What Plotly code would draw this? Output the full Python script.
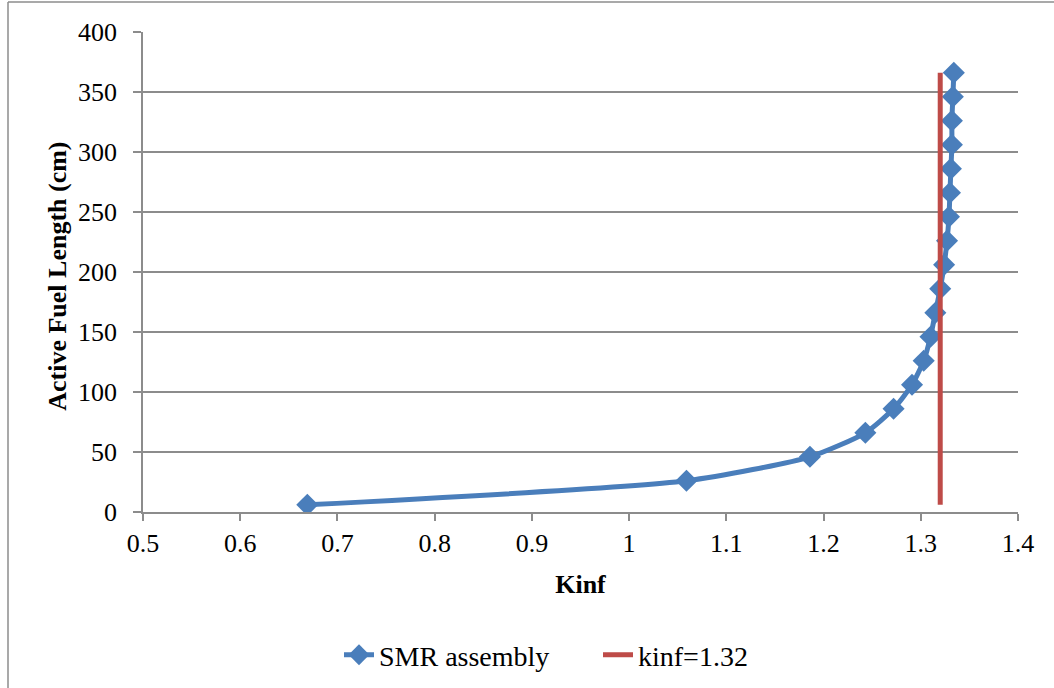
import plotly.graph_objects as go

# Kinf along the active fuel length of the SMR assembly
length_cm = [6, 26, 46, 66, 86, 106, 126, 146, 166, 186,
             206, 226, 246, 266, 286, 306, 326, 346, 366]
kinf = [0.669, 1.059, 1.186, 1.243, 1.272, 1.291, 1.303, 1.310, 1.315, 1.320,
        1.324, 1.327, 1.329, 1.330, 1.331, 1.332, 1.332, 1.333, 1.334]

# Reference line kinf = 1.32
ref_k = 1.32
ref_length = [6, 366]

x_ticks = [0.5, 0.6, 0.7, 0.8, 0.9, 1, 1.1, 1.2, 1.3, 1.4]
x_tick_labels = ["0.5", "0.6", "0.7", "0.8", "0.9", "1", "1.1", "1.2", "1.3", "1.4"]
y_ticks = [0, 50, 100, 150, 200, 250, 300, 350, 400]

BLUE = "#4A7EBB"
RED = "#BE4B48"
GRID = "#8C8C8C"
FONT = "Liberation Serif, Times New Roman, serif"


def serif(size):
    return dict(family=FONT, size=size, color="black")


fig = go.Figure()
fig.add_trace(go.Scatter(
    x=kinf, y=length_cm, name="SMR assembly",
    mode="lines+markers",
    line=dict(color=BLUE, width=5, shape="spline", smoothing=0.6),
    marker=dict(symbol="diamond", size=17, color=BLUE),
))
fig.add_trace(go.Scatter(
    x=[ref_k, ref_k], y=ref_length, name="kinf=1.32",
    mode="lines",
    line=dict(color=RED, width=5),
))

fig.update_layout(
    width=1054, height=688,
    margin=dict(l=143, r=36, t=32, b=176, autoexpand=False),
    paper_bgcolor="white", plot_bgcolor="white",
    font=serif(26),
    showlegend=True,
    legend=dict(orientation="h", x=(339 - 143) / 875, xanchor="left",
                y=-0.298, yanchor="middle",
                font=serif(28), tracegroupgap=0, entrywidth=214),
    xaxis=dict(
        range=[0.5, 1.4], tickvals=x_ticks, ticktext=x_tick_labels,
        showgrid=False, zeroline=False,
        showline=True, linecolor=GRID, linewidth=1.5,
        ticks="outside", ticklen=7, tickcolor=GRID, tickwidth=1.5,
        tickfont=serif(26),
        title=dict(text="<b>Kinf</b>", font=serif(26), standoff=18),
    ),
    yaxis=dict(
        range=[0, 400], tickvals=y_ticks,
        showgrid=True, gridcolor=GRID, gridwidth=1.5, zeroline=False,
        showline=True, linecolor=GRID, linewidth=1.5,
        ticks="outside", ticklen=8, tickcolor=GRID, tickwidth=1.5,
        ticklabelstandoff=11,
        tickfont=serif(26),
    ),
    annotations=[
        dict(text="<b>Active Fuel Length (cm)</b>", textangle=-90,
             xref="paper", yref="paper", x=(58 - 143) / 875, y=0.49,
             xanchor="center", yanchor="middle", showarrow=False,
             font=serif(26)),
    ],
    shapes=[
        # chart frame (top and left edges)
        dict(type="line", xref="paper", yref="paper",
             x0=(8 - 143) / 875, x1=1.1, y0=(512 - 2) / 480, y1=(512 - 2) / 480,
             line=dict(color="#8C8C8C", width=1.5)),
        dict(type="line", xref="paper", yref="paper",
             x0=(8 - 143) / 875, x1=(8 - 143) / 875, y0=(512 - 2) / 480, y1=-0.5,
             line=dict(color="#8C8C8C", width=1.5)),
    ],
)

fig.write_html("out.html")
